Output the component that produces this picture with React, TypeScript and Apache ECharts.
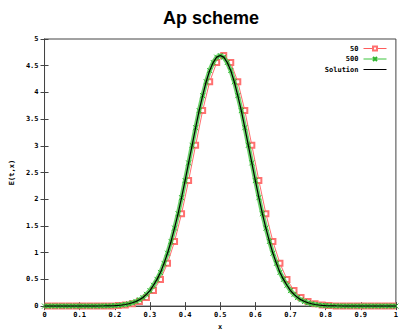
import React, { useEffect, useRef } from "react";
import * as echarts from "echarts";

const solution: number[] = [
  0, 0, 0, 0, 0, 0, 0, 0, 0, 0,
  0, 0, 0, 0, 0, 0, 0.0015, 0.0025, 0.004, 0.006,
  0.009, 0.014, 0.021, 0.03, 0.044, 0.062, 0.087, 0.12, 0.16, 0.22,
  0.29, 0.39, 0.5, 0.63, 0.8, 0.99, 1.21, 1.46, 1.73, 2.03,
  2.35, 2.68, 3.01, 3.34, 3.66, 3.94, 4.2, 4.41, 4.56, 4.66,
  4.69, 4.66, 4.56, 4.41, 4.2, 3.94, 3.66, 3.34, 3.01, 2.68,
  2.35, 2.03, 1.73, 1.46, 1.21, 0.99, 0.8, 0.63, 0.5, 0.39,
  0.29, 0.22, 0.16, 0.12, 0.087, 0.062, 0.044, 0.03, 0.021, 0.014,
  0.009, 0.006, 0.004, 0.0025, 0.0015, 0, 0, 0, 0, 0,
  0, 0, 0, 0, 0, 0, 0, 0, 0, 0,
  0,
];

// 500-cell scheme (visually identical to the solution)
const scheme500: number[] = solution;

// 50-cell scheme at cell centres x = 0.01, 0.03, ..., 0.99
const scheme50: number[] = [
  0, 0, 0, 0, 0, 0, 0, 0, 0.0015, 0.004,
  0.009, 0.021, 0.044, 0.087, 0.16, 0.29, 0.5, 0.8, 1.21, 1.73,
  2.35, 3.01, 3.66, 4.2, 4.56, 4.69, 4.56, 4.2, 3.66, 3.01,
  2.35, 1.73, 1.21, 0.8, 0.5, 0.29, 0.16, 0.087, 0.044, 0.021,
  0.009, 0.004, 0.0015, 0, 0, 0, 0, 0, 0, 0,
];

const seriesNames = ["50", "500", "Solution"];
const titleText = "Ap scheme";
const xName = "x";
const yName = "E(t,x)";

const fineX = (i: number) => Math.round(i) / 100;
const coarseX = (i: number) => (2 * i + 1) / 100;

export default function App() {
  const ref = useRef<HTMLDivElement>(null);
  useEffect(() => {
    if (!ref.current) return;
    const chart = echarts.init(ref.current, null, { renderer: "svg" });
    const mono = "DejaVu Sans Mono";
    const tickFont = { fontFamily: mono, fontSize: 7, fontWeight: "bold" as const, color: "#000" };
    const axisLineStyle = { color: "#444", width: 1 };
    const fmt = (v: number) => String(Math.round(v * 10) / 10);
    const red = "#ff5c5c";
    const green = "#3cc43c";
    chart.setOption({
      animation: false,
      backgroundColor: "#fff",
      title: {
        text: titleText,
        left: 158,
        top: 4,
        textStyle: { fontFamily: "Liberation Sans", fontSize: 18, fontWeight: "bold", color: "#000" },
      },
      grid: { left: 42, right: 1, top: 39, bottom: 23, show: true, borderColor: "#444", borderWidth: 1 },
      legend: {
        orient: "vertical",
        right: 9,
        top: 40,
        align: "right",
        itemWidth: 23,
        itemHeight: 5,
        itemGap: 3.5,
        lineStyle: { width: 1 },
        textStyle: { fontFamily: mono, fontSize: 7, fontWeight: "bold", color: "#000", padding: [0, 0, 0, 0] },
        data: [
          { name: seriesNames[0], itemStyle: { borderWidth: 1 }, lineStyle: { width: 1 } },
          { name: seriesNames[1], lineStyle: { width: 1, opacity: 1 } },
          { name: seriesNames[2], itemStyle: { opacity: 0 }, lineStyle: { width: 1 } },
        ],
      },
      xAxis: [
        {
          type: "value",
          min: 0,
          max: 1,
          interval: 0.1,
          name: xName,
          nameLocation: "middle",
          nameGap: 14,
          nameTextStyle: tickFont,
          axisLine: { show: true, lineStyle: axisLineStyle },
          axisTick: { show: true, inside: true, length: 4, lineStyle: axisLineStyle },
          axisLabel: { ...tickFont, margin: 5, formatter: fmt },
          splitLine: { show: false },
        },
        {
          type: "value",
          position: "top",
          min: 0,
          max: 1,
          interval: 0.1,
          axisLine: { show: true, lineStyle: axisLineStyle },
          axisTick: { show: true, inside: true, length: 4, lineStyle: axisLineStyle },
          axisLabel: { show: false },
          splitLine: { show: false },
        },
      ],
      yAxis: [
        {
          type: "value",
          min: 0,
          max: 5,
          interval: 0.5,
          name: yName,
          nameLocation: "middle",
          nameGap: 29,
          nameRotate: 90,
          nameTextStyle: tickFont,
          axisLine: { show: true, lineStyle: axisLineStyle },
          axisTick: { show: true, inside: true, length: 4, lineStyle: axisLineStyle },
          axisLabel: { ...tickFont, margin: 6, formatter: fmt },
          splitLine: { show: false },
        },
        {
          type: "value",
          position: "right",
          min: 0,
          max: 5,
          interval: 0.5,
          axisLine: { show: true, lineStyle: axisLineStyle },
          axisTick: { show: true, inside: true, length: 4, lineStyle: axisLineStyle },
          axisLabel: { show: false },
          splitLine: { show: false },
        },
      ],
      series: [
        {
          name: seriesNames[0],
          type: "line",
          data: scheme50.map((v, i) => [coarseX(i), v]),
          symbol: "emptyRect",
          symbolSize: 5,
          color: red,
          lineStyle: { width: 0.9, color: red },
          itemStyle: { color: "#ff7070", borderColor: "#ff7070", borderWidth: 0.8 },
          z: 2,
        },
        {
          name: seriesNames[1],
          type: "line",
          data: scheme500.map((v, i) => [fineX(i), v]),
          symbol: "path://M0,0L10,10M10,0L0,10",
          symbolSize: 5,
          color: green,
          lineStyle: { width: 4.5, color: green, opacity: 0.75 },
          itemStyle: { color: "#2fb52f", borderColor: "#2fb52f", borderWidth: 1 },
          z: 3,
        },
        {
          name: seriesNames[2],
          type: "line",
          data: solution.map((v, i) => [fineX(i), v]),
          symbol: "none",
          color: "#000",
          lineStyle: { width: 1.2, color: "#000" },
          z: 4,
        },
      ],
    });
    return () => chart.dispose();
  }, []);
  return <div ref={ref} style={{ width: 401, height: 335, position: "absolute", left: 0, top: 0 }} />;
}
